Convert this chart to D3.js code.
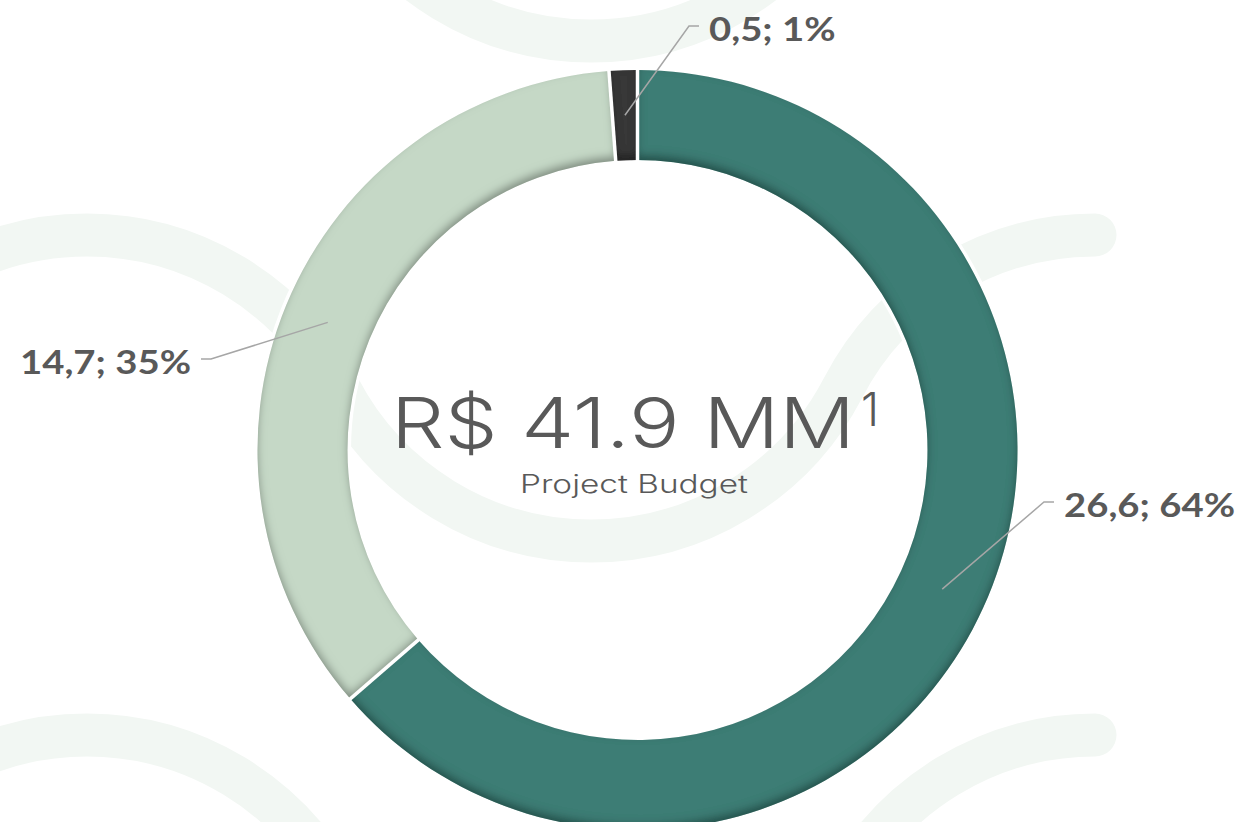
<!DOCTYPE html>
<html>
<head>
<meta charset="utf-8">
<script src="https://cdn.jsdelivr.net/npm/d3@7"></script>
<style>
  html, body { margin: 0; padding: 0; background: #fff; }
  svg { display: block; }
</style>
</head>
<body>
<svg id="chart" width="1245" height="822"></svg>
<script>
// data
const categories = ['Segment A', 'Segment B', 'Segment C']
const values = [26.6, 14.7, 0.5]
const colors = ['#3e7d74', '#c5d8c6', '#383838']
const totalLabel = 'R$ 41.9 MM'
const totalNote = '1'
const subtitle = 'Project Budget'

// where each data label sits (elbow of the leader, text side)
const labelLayout = [
  { elbow: [1044, 502], dir: 1 },
  { elbow: [211, 359], dir: -1 },
  { elbow: [689, 26], dir: 1 }
]

// stretch a text element horizontally to a wider look
function widen(sel, k) {
  sel.each(function() {
    const w = this.getComputedTextLength()
    d3.select(this)
      .attr('textLength', w * k)
      .attr('lengthAdjust', 'spacingAndGlyphs')
  })
}

function drawChart() {
  const svg = d3.select('#chart')
  const cx = 637.5
  const cy = 450
  const outerR = 380
  const innerR = 290

  // inner shadow on the ring segments
  const defs = svg.append('defs')
  const f = defs.append('filter')
    .attr('id', 'inset')
    .attr('x', '-10%').attr('y', '-10%')
    .attr('width', '120%').attr('height', '120%')
  f.append('feComponentTransfer').attr('in', 'SourceAlpha').attr('result', 'inv')
    .append('feFuncA').attr('type', 'table').attr('tableValues', '1 0')
  f.append('feGaussianBlur').attr('in', 'inv').attr('stdDeviation', 4).attr('result', 'blur')
  f.append('feOffset').attr('in', 'blur').attr('dx', 0).attr('dy', -5).attr('result', 'off')
  f.append('feFlood').attr('flood-color', '#000').attr('flood-opacity', 0.6).attr('result', 'col')
  f.append('feComposite').attr('in', 'col').attr('in2', 'off').attr('operator', 'in').attr('result', 'sh')
  f.append('feComposite').attr('in', 'sh').attr('in2', 'SourceAlpha').attr('operator', 'in').attr('result', 'shIn')
  const m = f.append('feMerge')
  m.append('feMergeNode').attr('in', 'SourceGraphic')
  m.append('feMergeNode').attr('in', 'shIn')

  // decorative wave in the background (circular arcs)
  const P = 504, A = 306
  const R = (P * P + A * A) / (4 * A)
  const th = Math.asin((P / 2) / R)
  function wave(crestY, firstCrestX, lastCrestX) {
    const p = d3.path()
    let x = firstCrestX
    p.moveTo(x + R * Math.cos(-Math.PI / 2 - th), crestY + R + R * Math.sin(-Math.PI / 2 - th))
    while (x < lastCrestX) {
      p.arc(x, crestY + R, R, -Math.PI / 2 - th, -Math.PI / 2 + th, false)
      p.arc(x + P, crestY + A - R, R, Math.PI / 2 + th, Math.PI / 2 - th, true)
      x += 2 * P
    }
    p.arc(x, crestY + R, R, -Math.PI / 2 - th, -Math.PI / 2, false)
    return p.toString()
  }
  const bg = svg.append('g')
  ;[-265, 235, 735].forEach(y => {
    bg.append('path')
      .attr('d', wave(y, 87, 1095))
      .attr('fill', 'none')
      .attr('stroke', '#f2f7f3')
      .attr('stroke-width', 43)
      .attr('stroke-linecap', 'round')
  })

  const fmt = d3.formatLocale({ decimal: ',', thousands: '.', grouping: [3], currency: ['R$ ', ''] })
  const total = d3.sum(values)
  const rows = categories.map((c, i) => ({ name: c, value: values[i], color: colors[i], layout: labelLayout[i] }))

  const pie = d3.pie().sort(null).value(d => d.value)
  const arcs = pie(rows)
  const arc = d3.arc().innerRadius(innerR).outerRadius(outerR)
  const midArc = d3.arc().innerRadius((innerR + outerR) / 2).outerRadius((innerR + outerR) / 2)

  const g = svg.append('g').attr('transform', `translate(${cx},${cy})`)

  // thin white outline round the ring (cuts the background wave)
  g.selectAll('circle.rim')
    .data([outerR + 1.5, innerR - 1.5])
    .join('circle')
    .attr('class', 'rim')
    .attr('r', d => d)
    .attr('fill', 'none')
    .attr('stroke', '#fff')
    .attr('stroke-width', 4)

  g.selectAll('path.slice')
    .data(arcs)
    .join('path')
    .attr('class', 'slice')
    .attr('d', arc)
    .attr('fill', d => d.data.color)
    .attr('filter', 'url(#inset)')

  // white separators between slices
  g.selectAll('line.sep')
    .data(arcs)
    .join('line')
    .attr('class', 'sep')
    .attr('x1', d => (innerR - 2) * Math.sin(d.startAngle))
    .attr('y1', d => -(innerR - 2) * Math.cos(d.startAngle))
    .attr('x2', d => (outerR + 2) * Math.sin(d.startAngle))
    .attr('y2', d => -(outerR + 2) * Math.cos(d.startAngle))
    .attr('stroke', '#fff')
    .attr('stroke-width', 3.5)

  // leader lines
  g.selectAll('polyline')
    .data(arcs)
    .join('polyline')
    .attr('points', d => {
      const [mx, my] = midArc.centroid(d)
      const [ex, ey] = d.data.layout.elbow
      const ox = ex - cx, oy = ey - cy
      return [[mx, my], [ox, oy], [ox + d.data.layout.dir * 10, oy]].map(p => p.join(',')).join(' ')
    })
    .attr('fill', 'none')
    .attr('stroke', '#a6a6a6')
    .attr('stroke-width', 1.5)

  g.selectAll('text.lbl')
    .data(arcs)
    .join('text')
    .attr('class', 'lbl')
    .attr('x', d => d.data.layout.elbow[0] - cx + d.data.layout.dir * 20)
    .attr('y', d => d.data.layout.elbow[1] - cy + 15)
    .attr('text-anchor', d => d.data.layout.dir > 0 ? 'start' : 'end')
    .attr('font-family', 'Lato, "Open Sans", sans-serif')
    .attr('font-weight', 700)
    .attr('font-size', 33)
    .attr('fill', '#595959')
    .text(d => fmt.format('.1f')(d.value) + '; ' + Math.round(d.value / total * 100) + '%')
    .call(widen, 1.16)

  // centre text
  svg.append('text')
    .attr('x', 391)
    .attr('y', 448)
    .attr('font-family', 'Inter, Lato, sans-serif')
    .attr('font-weight', 300)
    .attr('font-size', 70)
    .attr('fill', '#595959')
    .text(totalLabel)
    .call(sel => sel.attr('textLength', 464).attr('lengthAdjust', 'spacingAndGlyphs'))
  svg.append('text')
    .attr('x', 861)
    .attr('y', 426)
    .attr('font-family', 'Inter, Lato, sans-serif')
    .attr('font-weight', 300)
    .attr('font-size', 46)
    .attr('fill', '#595959')
    .text(totalNote)
  svg.append('text')
    .attr('x', 520)
    .attr('y', 493)
    .attr('font-family', 'Inter, Lato, sans-serif')
    .attr('font-weight', 300)
    .attr('font-size', 25)
    .attr('fill', '#595959')
    .text(subtitle)
    .call(sel => sel.attr('textLength', 228).attr('lengthAdjust', 'spacingAndGlyphs'))
}

document.addEventListener('DOMContentLoaded', drawChart, false)
</script>
</body>
</html>
